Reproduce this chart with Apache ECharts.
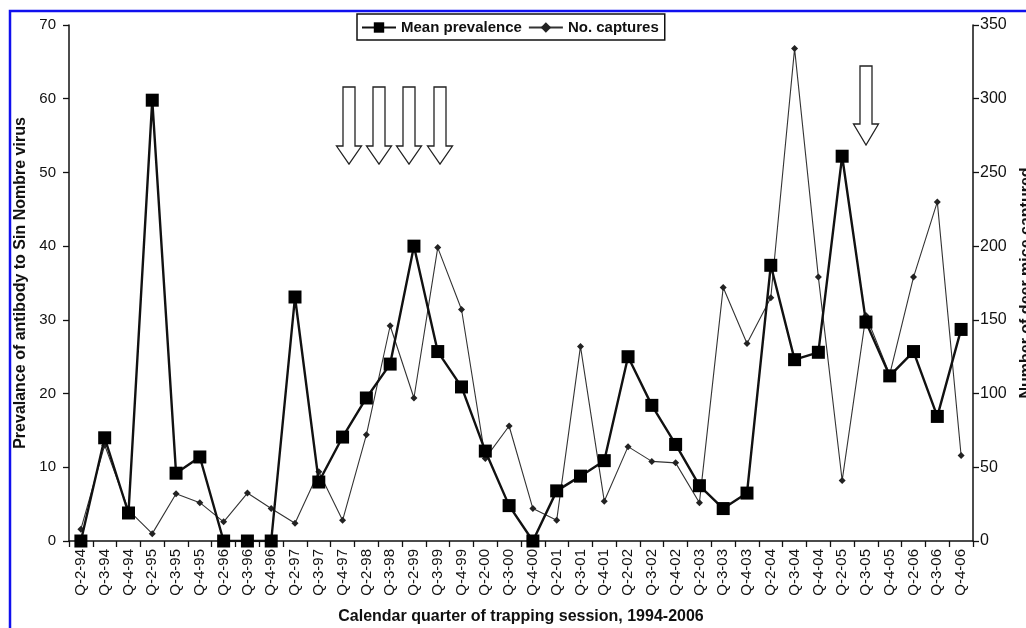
<!DOCTYPE html>
<html>
<head>
<meta charset="utf-8">
<script src="https://cdn.jsdelivr.net/npm/echarts@6/dist/echarts.min.js"></script>
<style>
html,body{margin:0;padding:0;background:#fff;overflow:hidden;}
#chart{width:1026px;height:628px;}
</style>
</head>
<body>
<div id="chart"></div>
<script>
var categories = ['Q-2-94','Q-3-94','Q-4-94','Q-2-95','Q-3-95','Q-4-95','Q-2-96','Q-3-96','Q-4-96','Q-2-97','Q-3-97','Q-4-97','Q-2-98','Q-3-98','Q-2-99','Q-3-99','Q-4-99','Q-2-00','Q-3-00','Q-4-00','Q-2-01','Q-3-01','Q-4-01','Q-2-02','Q-3-02','Q-4-02','Q-2-03','Q-3-03','Q-4-03','Q-2-04','Q-3-04','Q-4-04','Q-2-05','Q-3-05','Q-4-05','Q-2-06','Q-3-06','Q-4-06'];
var meanPrevalence = [0,14,3.8,59.8,9.2,11.4,0,0,0,33.1,8,14.1,19.4,24,40,25.7,20.9,12.2,4.8,0,6.8,8.8,10.9,25,18.4,13.1,7.5,4.4,6.5,37.4,24.6,25.6,52.2,29.7,22.4,25.7,16.9,28.7];
var noCaptures = [8,65,21,5,32,26,13,32.5,22,12,47,14,72,146,97,199,157,56,78,22,14,132,27,64,54,53,26,172,134,165,334,179,41,153,113,179,230,58];
var leftTicks = {min:0,max:70,interval:10};
var rightTicks = {min:0,max:350,interval:50};

var chart = echarts.init(document.getElementById('chart'));
var font = 'Liberation Sans, Arial, sans-serif';

function arrow(cx, top, headBase, tip){
  var sw = 6, hw = 12.5;
  return {
    type:'polygon',
    shape:{points:[[cx-sw,top],[cx+sw,top],[cx+sw,headBase],[cx+hw,headBase],[cx,tip],[cx-hw,headBase],[cx-sw,headBase]]},
    style:{fill:'#fff',stroke:'#222',lineWidth:1.3},
    z:10
  };
}

var option = {
  backgroundColor:'#fff',
  animation:false,
  textStyle:{fontFamily:font},
  grid:{left:69,right:53,top:25,bottom:87,containLabel:false,outerBoundsMode:'none'},
  legend:{
    top:14,left:357,
    data:['Mean prevalence','No. captures'],
    borderColor:'#111',borderWidth:1.5,borderRadius:0,
    padding:[6,6,5,4],
    itemGap:6,itemWidth:34,itemHeight:13,
    textStyle:{fontFamily:font,fontSize:15,color:'#111',fontWeight:'bold'}
  },
  xAxis:{
    type:'category',
    data:categories,
    boundaryGap:true,
    name:'Calendar quarter of trapping session, 1994-2006',
    nameLocation:'middle',nameGap:68,
    nameTextStyle:{fontFamily:font,fontSize:16,fontWeight:'bold',color:'#111'},
    axisLine:{lineStyle:{color:'#111',width:1.5}},
    axisTick:{show:true,inside:false,length:6,lineStyle:{color:'#111',width:1.3}},
    axisLabel:{rotate:90,interval:0,fontSize:15,color:'#111',fontFamily:font,margin:8,overflow:'none'}
  },
  yAxis:[{
    type:'value',position:'left',
    min:leftTicks.min,max:leftTicks.max,interval:leftTicks.interval,
    name:'Prevalance of antibody to Sin Nombre virus',
    nameLocation:'middle',nameGap:40,
    nameTextStyle:{fontFamily:font,fontSize:16,fontWeight:'bold',color:'#111'},
    axisLine:{show:true,lineStyle:{color:'#111',width:1.5}},
    axisTick:{show:true,length:6,lineStyle:{color:'#111',width:1.3}},
    axisLabel:{fontSize:15,color:'#111',fontFamily:font,margin:13},
    splitLine:{show:false}
  },{
    type:'value',position:'right',
    min:rightTicks.min,max:rightTicks.max,interval:rightTicks.interval,
    name:'Number of deer mice captured',
    nameLocation:'middle',nameGap:46,nameRotate:90,
    nameTextStyle:{fontFamily:font,fontSize:16,fontWeight:'bold',color:'#111'},
    axisLine:{show:true,lineStyle:{color:'#111',width:1.5}},
    axisTick:{show:true,length:6,lineStyle:{color:'#111',width:1.3}},
    axisLabel:{fontSize:16,color:'#111',fontFamily:font,margin:7},
    splitLine:{show:false}
  }],
  series:[{
    name:'Mean prevalence',type:'line',yAxisIndex:0,
    data:meanPrevalence,
    symbol:'rect',symbolSize:13,
    itemStyle:{color:'#000'},
    lineStyle:{color:'#111',width:2.4},
    z:3
  },{
    name:'No. captures',type:'line',yAxisIndex:1,
    data:noCaptures,
    symbol:'diamond',symbolSize:7,
    itemStyle:{color:'#222'},
    lineStyle:{color:'#333',width:1.1},
    z:2
  }],
  graphic:[
    {type:'rect',shape:{x:10,y:11,width:1040,height:640},style:{fill:'none',stroke:'#1010ee',lineWidth:2.5},silent:true,z:20},
    arrow(349,87,146,164),
    arrow(379,87,146,164),
    arrow(409,87,146,164),
    arrow(440,87,146,164),
    arrow(866,66,124,145)
  ]
};
chart.setOption(option);
</script>
</body>
</html>
